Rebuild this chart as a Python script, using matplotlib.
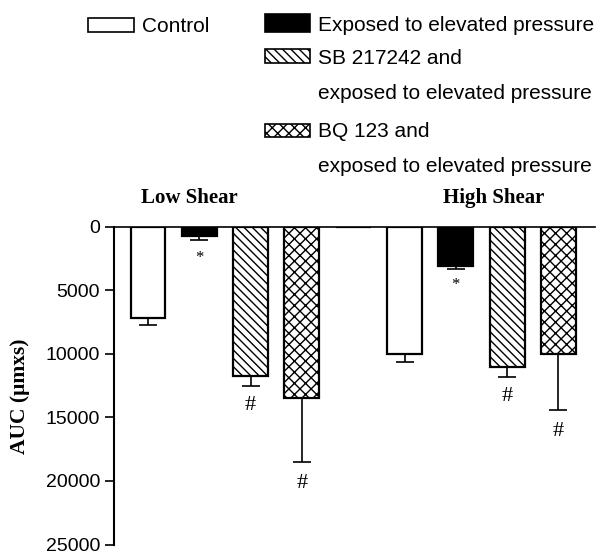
import numpy as np
import matplotlib.pyplot as plt
from matplotlib.patches import Rectangle

plt.rcParams['font.family'] = ['Liberation Sans', 'DejaVu Sans']
plt.rcParams['hatch.linewidth'] = 1.0

# data (AUC, um x s)
groups = ["Low Shear", "High Shear"]
treatments = ["Control", "Exposed to elevated pressure",
              "SB 217242 and\nexposed to elevated pressure",
              "BQ 123 and\nexposed to elevated pressure"]
low_shear = [7200, 770, 11730, 13500]
low_err = [580, 310, 810, 4980]
high_shear = [10060, 3090, 11080, 10020]
high_err = [580, 230, 780, 4370]
marks = ["", "*", "#", "#"]
low_mark_y = [None, 2460, 14080, 20200]
high_mark_y = [None, 4620, 13400, 16080]
yticks = [0, 5000, 10000, 15000, 20000, 25000]

faces = ["white", "black", "white", "white"]
hatches = [None, None, "\\\\\\\\", "xxx"]

W, H = 605, 556
fig = plt.figure(figsize=(W / 100, H / 100), dpi=100)
ax = fig.add_axes([114 / W, 1 - 544.5 / H, (595 - 114) / W, (544.5 - 226.5) / H])

def px(x, y):
    # pixel position -> figure fraction
    return x / W, 1 - y / H

# bars: slots 0-3 low shear, 4 empty, 5-8 high shear
vals = low_shear + [0] + high_shear
errs = low_err + [0] + high_err
fc = faces + ["white"] + faces
hh = hatches + [None] + hatches
xpos = np.arange(len(vals))
for i in range(len(vals)):
    ax.bar(xpos[i], vals[i], width=0.68, color=fc[i], edgecolor="black",
           linewidth=1.6, hatch=hh[i], zorder=2)
    if errs[i] > 0:
        ax.errorbar(xpos[i], vals[i], yerr=[[0], [errs[i]]], fmt="none",
                    ecolor="black", elinewidth=1.2, capsize=6.5, capthick=1.2,
                    zorder=1)

mark_y = low_mark_y + [None] + high_mark_y
all_marks = marks + [""] + marks
for i in range(len(vals)):
    if all_marks[i] == "*":
        ax.text(xpos[i], mark_y[i], "*", ha="center", va="center",
                fontsize=12, family="Liberation Serif")
    elif all_marks[i] == "#":
        ax.text(xpos[i], mark_y[i], "#", ha="center", va="center",
                fontsize=16, family="Liberation Serif")

ax.set_xlim(-0.663, 8.713)
ax.set_ylim(25000, 0)
ax.set_yticks(yticks)
ax.set_yticklabels([str(t) for t in yticks], fontsize=14)
ax.set_xticks([])
ax.tick_params(axis="y", length=6.5, width=1.2, pad=3.5)
ax.spines["right"].set_visible(False)
ax.spines["bottom"].set_visible(False)
ax.spines["top"].set_linewidth(1.2)
ax.spines["left"].set_linewidth(1.5)

# group titles and axis label
for name, cx in zip(groups, [189, 493.4]):
    fig.text(*px(cx, 202.7), name, ha="center", va="baseline", fontsize=15,
             fontweight="bold", family="Liberation Serif")
fig.text(*px(20, 396.7), "AUC (\u03bcmxs)", rotation=90, ha="center", va="center",
         fontsize=15.5, fontweight="bold", family="Liberation Serif")

# legend drawn by hand
def patch(x0, y0, x1, y1, face, hatch):
    fx, fy = px(x0, y1)
    fig.patches.append(Rectangle((fx, fy), (x1 - x0) / W, (y1 - y0) / H,
                                 transform=fig.transFigure, facecolor=face,
                                 edgecolor="black", linewidth=1.2, hatch=hatch))

patch(88, 17.7, 134, 32.3, faces[0], hatches[0])
fig.text(*px(141.7, 32.3), treatments[0], va="baseline", fontsize=15)

patch(265, 14, 310, 31.7, faces[1], hatches[1])
fig.text(*px(318.3, 30.7), treatments[1], va="baseline", fontsize=15)

patch(265, 49.3, 310, 63.3, faces[2], hatches[2])
l1, l2 = treatments[2].split("\n")
fig.text(*px(318.3, 64), l1, va="baseline", fontsize=15)
fig.text(*px(318.3, 99), l2, va="baseline", fontsize=15)

patch(265, 124, 310, 137.3, faces[3], hatches[3])
l1, l2 = treatments[3].split("\n")
fig.text(*px(318.3, 137.3), l1, va="baseline", fontsize=15)
fig.text(*px(318.3, 171.7), l2, va="baseline", fontsize=15)

fig.savefig("out.png", dpi=100)
